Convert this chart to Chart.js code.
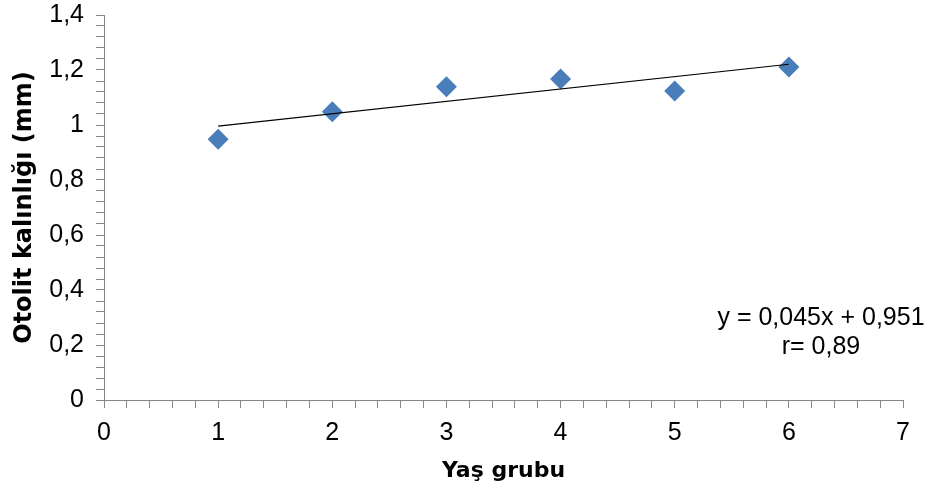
<!DOCTYPE html>
<html>
<head>
<meta charset="utf-8">
<script src="https://cdn.jsdelivr.net/npm/chart.js@4.4.0/dist/chart.umd.min.js"></script>
<style>
  body { margin: 0; background: #fff; }
  #wrap { width: 937px; height: 489px; }
</style>
</head>
<body>
<div id="wrap"><canvas id="chart" width="937" height="489"></canvas></div>
<script>
// age group vs otolith thickness
var yas_grubu = [1, 2, 3, 4, 5, 6];
var kalinlik = [0.948, 1.048, 1.139, 1.167, 1.124, 1.211];
// trend line end points (y = 0,045x + 0,951)
var trend_x = [1, 6];
var trend_y = [0.996, 1.221];
var denklem = ["y = 0,045x + 0,951", "r= 0,89"];

var axisGray = "#868686";

var noktalar = [];
for (let i = 0; i < yas_grubu.length; i++) {
    noktalar.push({ x: yas_grubu[i], y: kalinlik[i] });
}
var trend = [];
for (let i = 0; i < trend_x.length; i++) {
    trend.push({ x: trend_x[i], y: trend_y[i] });
}

function isMultiple(v, step) {
    return Math.abs(v / step - Math.round(v / step)) < 1e-6;
}

const textPlugin = {
    id: "denklem",
    afterDraw: function(chart) {
        const ctx = chart.ctx;
        ctx.save();
        ctx.font = "25px 'Liberation Sans', Arial, sans-serif";
        ctx.fillStyle = "#000";
        ctx.textAlign = "center";
        ctx.textBaseline = "middle";
        ctx.fillText(denklem[0], 821, 318);
        ctx.fillText(denklem[1], 821, 347);
        ctx.restore();
    }
};

const ctx = document.getElementById("chart").getContext("2d");
const myChart = new Chart(ctx, {
    type: "scatter",
    data: {
        datasets: [{
            type: "line",
            data: trend,
            borderColor: "#000",
            borderWidth: 1.2,
            pointRadius: 0,
            fill: false,
            order: 0,
        }, {
            data: noktalar,
            pointStyle: "rectRot",
            pointRadius: 10.5,
            pointBackgroundColor: "#4a7ebb",
            pointBorderColor: "#4a7ebb",
            pointBorderWidth: 0,
            order: 1,
        }],
    },
    options: {
        responsive: false,
        animation: false,
        layout: {
            padding: { top: 15, right: 34, left: 0, bottom: 0 },
        },
        plugins: {
            legend: { display: false },
            tooltip: { enabled: false },
        },
        scales: {
            x: {
                type: "linear",
                min: 0,
                max: 7,
                afterFit: function(scale) {
                    scale.height = 89;
                    scale.paddingLeft = 0;
                    scale.paddingRight = 0;
                },
                border: { display: true, color: axisGray, width: 1 },
                grid: {
                    drawOnChartArea: false,
                    drawTicks: true,
                    tickLength: 8,
                    tickColor: axisGray,
                },
                ticks: {
                    stepSize: 0.2,
                    autoSkip: false,
                    maxRotation: 0,
                    padding: 10,
                    color: "#000",
                    font: { family: "'Liberation Sans', Arial", size: 25 },
                    callback: function(v) {
                        return isMultiple(v, 1) ? String(Math.round(v)) : "";
                    },
                },
                title: {
                    display: true,
                    text: "Yaş grubu",
                    color: "#000",
                    font: { family: "'DejaVu Sans'", size: 22, weight: "bold" },
                    padding: { top: 0, bottom: 5 },
                },
            },
            y: {
                min: 0,
                max: 1.4,
                afterFit: function(scale) {
                    scale.width = 104;
                    scale.paddingTop = 0;
                    scale.paddingBottom = 0;
                },
                border: { display: true, color: axisGray, width: 1 },
                grid: {
                    drawOnChartArea: false,
                    drawTicks: true,
                    tickLength: 8,
                    tickColor: axisGray,
                },
                ticks: {
                    stepSize: 0.04,
                    autoSkip: false,
                    padding: 12,
                    color: "#000",
                    font: { family: "'Liberation Sans', Arial", size: 25 },
                    callback: function(v) {
                        if (!isMultiple(v, 0.2)) return "";
                        return String(Math.round(v * 10) / 10).replace(".", ",");
                    },
                },
                title: {
                    display: true,
                    text: "Otolit kalınlığı (mm)",
                    color: "#000",
                    font: { family: "'DejaVu Sans'", size: 24, weight: "bold" },
                    padding: { top: 10, bottom: 0 },
                },
            },
        },
    },
    plugins: [textPlugin],
});
</script>
</body>
</html>
